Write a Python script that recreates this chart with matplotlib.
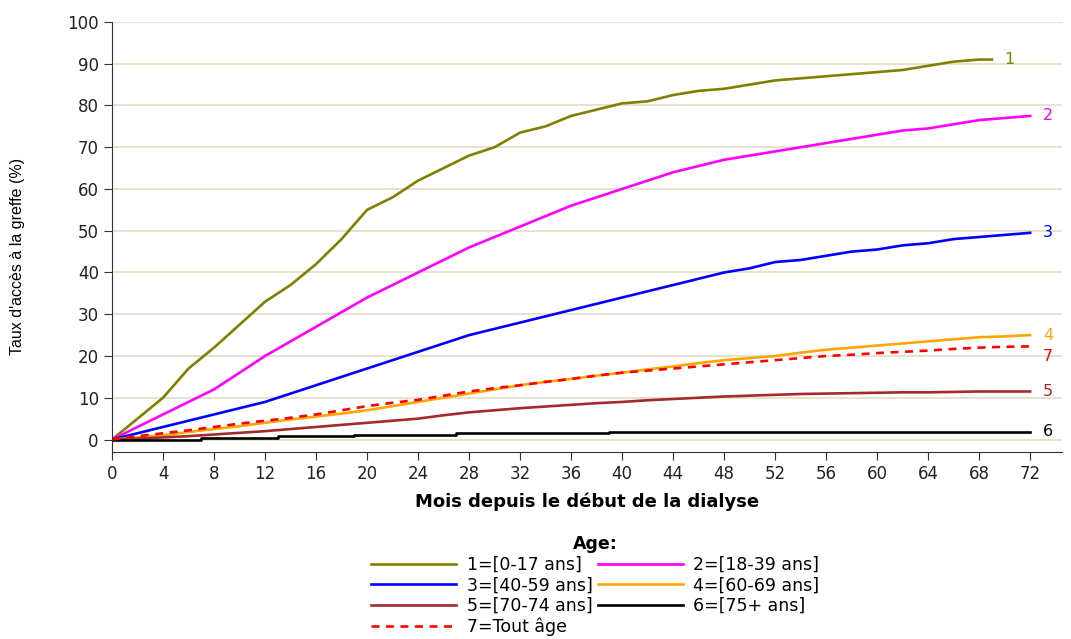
import numpy as np
import matplotlib.pyplot as plt

# months since start of dialysis
mois = [0, 2, 4, 6, 8, 10, 12, 14, 16, 18, 20, 22, 24, 26, 28, 30, 32, 34, 36,
        38, 40, 42, 44, 46, 48, 50, 52, 54, 56, 58, 60, 62, 64, 66, 68, 70, 72]
# the youngest group is followed only up to 69 months
mois_0_17 = [0, 2, 4, 6, 8, 10, 12, 14, 16, 18, 20, 22, 24, 26, 28, 30, 32, 34, 36,
             38, 40, 42, 44, 46, 48, 50, 52, 54, 56, 58, 60, 62, 64, 66, 68, 69]
# 75+ curve only moves at a few events
mois_75p = [0, 7, 13, 19, 27, 39, 72]

age_0_17 = [0, 5, 10, 17, 22, 27.5, 33, 37, 42, 48, 55, 58, 62, 65, 68, 70, 73.5, 75,
            77.5, 79, 80.5, 81, 82.5, 83.5, 84, 85, 86, 86.5, 87, 87.5, 88, 88.5,
            89.5, 90.5, 91, 91]
age_18_39 = [0, 3, 6, 9, 12, 16, 20, 23.5, 27, 30.5, 34, 37, 40, 43, 46, 48.5, 51,
             53.5, 56, 58, 60, 62, 64, 65.5, 67, 68, 69, 70, 71, 72, 73, 74, 74.5,
             75.5, 76.5, 77, 77.5]
age_40_59 = [0, 1.5, 3, 4.5, 6, 7.5, 9, 11, 13, 15, 17, 19, 21, 23, 25, 26.5, 28,
             29.5, 31, 32.5, 34, 35.5, 37, 38.5, 40, 41, 42.5, 43, 44, 45, 45.5,
             46.5, 47, 48, 48.5, 49, 49.5]
age_60_69 = [0, 0.5, 1, 1.8, 2.5, 3.2, 4, 4.8, 5.5, 6.2, 7, 8, 9, 10, 11, 12, 13,
             13.8, 14.5, 15.3, 16, 16.8, 17.5, 18.3, 19, 19.5, 20, 20.8, 21.5, 22,
             22.5, 23, 23.5, 24, 24.5, 24.7, 25]
age_70_74 = [0, 0.2, 0.5, 0.8, 1.2, 1.6, 2, 2.5, 3, 3.5, 4, 4.5, 5, 5.8, 6.5, 7, 7.5,
             7.9, 8.3, 8.7, 9, 9.4, 9.7, 10, 10.3, 10.5, 10.7, 10.9, 11, 11.1, 11.2,
             11.3, 11.3, 11.4, 11.5, 11.5, 11.5]
age_75p = [0, 0.3, 0.8, 1.1, 1.6, 1.8, 1.8]
tout_age = [0, 0.8, 1.5, 2.2, 3, 3.8, 4.5, 5.2, 6, 7, 8, 8.8, 9.5, 10.5, 11.5, 12.3,
            13, 13.8, 14.5, 15.3, 16, 16.5, 17, 17.5, 18, 18.5, 19, 19.5, 20, 20.3,
            20.7, 21, 21.3, 21.7, 22, 22.2, 22.3]

series = [
    ("1=[0-17 ans]", mois_0_17, age_0_17, "#808000", "-"),
    ("2=[18-39 ans]", mois, age_18_39, "#ff00ff", "-"),
    ("3=[40-59 ans]", mois, age_40_59, "#0000ff", "-"),
    ("4=[60-69 ans]", mois, age_60_69, "#ffa500", "-"),
    ("5=[70-74 ans]", mois, age_70_74, "#a52a2a", "-"),
    ("6=[75+ ans]", mois_75p, age_75p, "#000000", "-"),
    ("7=Tout âge", mois, tout_age, "#ff0000", (0, (3, 2.5))),
]

plt.rcParams['font.family'] = ['DejaVu Sans']

fig = plt.figure(figsize=(10.71, 6.39), dpi=100)
ax = fig.add_axes([0.1046, 0.2926, 0.887, 0.673])

handles = {}
for label, xs, vals, col, ls in series:
    line, = ax.plot(xs, vals, color=col, lw=1.9, linestyle=ls, label=label,
                    drawstyle='steps-post' if label.startswith("6=") else 'default')
    handles[label] = line
    num = label.split("=")[0]
    dy = -2.5 if num == "7" else 0
    ax.text(xs[-1] + 1.0, vals[-1] + dy, num, color=col, fontsize=11.5, va='center')

ax.set_xlim(0, 74.5)
ax.set_ylim(-3, 100)
ax.set_xticks(np.arange(0, 73, 4))
ax.set_yticks(np.arange(0, 101, 10))
ax.yaxis.grid(True, color='#e3dcc6', lw=1.2)
ax.set_axisbelow(True)
for s in ['top', 'right']:
    ax.spines[s].set_visible(False)
for s in ['left', 'bottom']:
    ax.spines[s].set_color('#333333')
ax.tick_params(axis='both', direction='out', length=6, colors='#333333',
               labelsize=12, labelcolor='#222222')

ax.set_xlabel("Mois depuis le début de la dialyse", fontsize=13, fontweight='bold',
              labelpad=7)
ax.set_ylabel("Taux d'accès à la greffe (%)", fontsize=11.5,
              family=['Liberation Sans Narrow', 'Liberation Sans'])
ax.yaxis.set_label_coords(-0.092, 0.455)

# legend filled row by row: 1 2 / 3 4 / 5 6 / 7
order = ["1=[0-17 ans]", "3=[40-59 ans]", "5=[70-74 ans]", "7=Tout âge",
         "2=[18-39 ans]", "4=[60-69 ans]", "6=[75+ ans]"]
leg = fig.legend([handles[k] for k in order], order, loc='upper center',
                 bbox_to_anchor=(0.556, 0.187), ncol=2, frameon=False,
                 fontsize=12.5, handlelength=4.9, handletextpad=0.6,
                 columnspacing=0.3, labelspacing=0.15, title="Age:",
                 title_fontproperties={'weight': 'bold', 'size': 12.5})

fig.savefig("out.png", dpi=100)
